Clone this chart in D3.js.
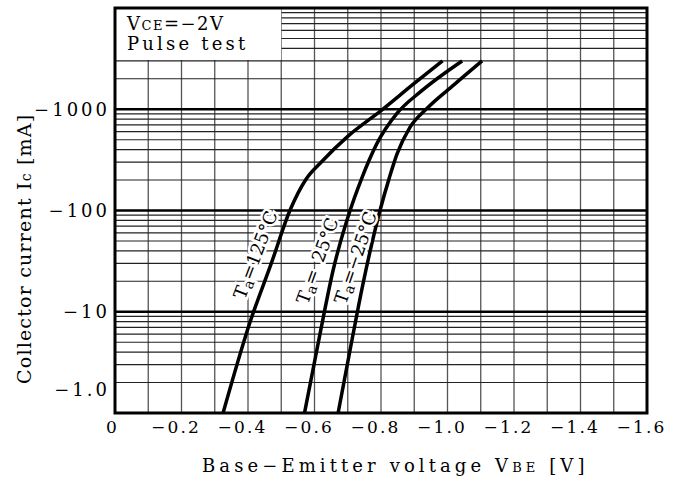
<!DOCTYPE html>
<html>
<head>
<meta charset="utf-8">
<script src="https://cdn.jsdelivr.net/npm/d3@7"></script>
<style>
  body { margin: 0; background: #fff; }
  svg { display: block; font-family: "DejaVu Serif", serif; }
</style>
</head>
<body>
<div id="chart"></div>
<script>
// axis ticks (values are magnitudes, labels carry the minus sign)
const vbeTicks = [0, 0.2, 0.4, 0.6, 0.8, 1.0, 1.2, 1.4, 1.6];
const vbeTickLabels = ["0", "\u22120.2", "\u22120.4", "\u22120.6", "\u22120.8", "\u22121.0", "\u22121.2", "\u22121.4", "\u22121.6"];
const icTicks = [1, 10, 100, 1000];
const icTickLabels = ["\u22121.0", "\u221210", "\u2212100", "\u22121000"];

// curves: |VBE| [V] vs |IC| [mA]
const vbe125 = [0.325, 0.405, 0.47, 0.526, 0.575, 0.62, 0.70, 0.80, 0.90, 0.985];
const ic125  = [1, 7.7, 30, 100, 205, 300, 540, 970, 1800, 3000];
const vbe25  = [0.57, 0.617, 0.656, 0.707, 0.74, 0.788, 0.848, 0.92, 1.044];
const ic25   = [1, 6.15, 25.7, 100, 200, 460, 909, 1500, 3000];
const vbeM25 = [0.671, 0.707, 0.746, 0.797, 0.825, 0.848, 0.887, 0.938, 1.02, 1.104];
const icM25  = [1, 4.2, 19, 100, 210, 360, 662, 1018, 1750, 3000];

// curve labels
const labelTemp = ["125\u00b0C", "\u200225\u00b0C", "\u221225\u00b0C"];
const labelVbe = [0.39, 0.58, 0.694];
const labelIc = [13, 11.6, 11.6];
const labelAngle = [-69, -70, -71];

const width = 683, height = 480;
const margin = { left: 115, right: 36, top: 8, bottom: 67 };

const svg = d3.select("#chart").append("svg")
  .attr("width", width)
  .attr("height", height);

const x = d3.scaleLinear().domain([0, 1.6]).range([margin.left, width - margin.right]);
const y = d3.scaleLog().domain([1, 10000]).range([height - margin.bottom, margin.top]);

const grid = svg.append("g");

// vertical grid, every 0.1 V
grid.selectAll("line.v")
  .data(d3.range(1, 16).map(i => i / 10))
  .enter().append("line")
  .attr("x1", d => x(d)).attr("x2", d => x(d))
  .attr("y1", y(1)).attr("y2", y(10000))
  .attr("stroke", "#555")
  .attr("stroke-width", 1.3);

// horizontal grid, 1-2-...-9 per decade
const hLines = [];
[1, 10, 100, 1000].forEach(dec => d3.range(1, 10).forEach(k => hLines.push(dec * k)));
grid.selectAll("line.h")
  .data(hLines.filter(d => d > 1))
  .enter().append("line")
  .attr("x1", x(0)).attr("x2", x(1.6))
  .attr("y1", d => y(d)).attr("y2", d => y(d))
  .attr("stroke", d => icTicks.includes(d) ? "#000" : "#222")
  .attr("stroke-width", d => icTicks.includes(d) ? 2.4 : 1.2);

// condition box in the top left corner
svg.append("rect")
  .attr("x", x(0)).attr("y", y(10000))
  .attr("width", x(0.5) - x(0))
  .attr("height", y(3000) - y(10000) - 1)
  .attr("fill", "#fff");

const cond = svg.append("text")
  .attr("x", 127).attr("y", 30)
  .style("font-size", "18px")
  .style("letter-spacing", "1.5px");
cond.append("tspan").text("V");
cond.append("tspan").style("font-size", "13px").text("CE");
cond.append("tspan").text("=\u22122V");
svg.append("text")
  .attr("x", 127).attr("y", 50)
  .style("font-size", "18px")
  .style("letter-spacing", "3.2px")
  .text("Pulse test");

// curves
const line = d3.line()
  .x(d => x(d[0]))
  .y(d => y(d[1]))
  .curve(d3.curveMonotoneX);

const series = [
  d3.zip(vbe125, ic125),
  d3.zip(vbe25, ic25),
  d3.zip(vbeM25, icM25)
];
svg.append("g").selectAll("path")
  .data(series)
  .enter().append("path")
  .attr("d", line)
  .attr("fill", "none")
  .attr("stroke", "#000")
  .attr("stroke-width", 3.5);

// Ta labels along the curves
labelTemp.forEach((t, i) => {
  const lab = svg.append("text")
    .attr("transform", `translate(${x(labelVbe[i])},${y(labelIc[i])}) rotate(${labelAngle[i]})`)
    .style("font-size", "18px")
    .style("fill", "#000")
    .style("stroke", "#fff")
    .style("stroke-width", 5)
    .style("paint-order", "stroke");
  lab.append("tspan").text("T");
  lab.append("tspan").style("font-size", "14px").attr("dy", 3).text("a");
  lab.append("tspan").attr("dy", -3).text("=" + t);
});

// frame
svg.append("rect")
  .attr("x", x(0)).attr("y", y(10000))
  .attr("width", x(1.6) - x(0))
  .attr("height", y(1) - y(10000))
  .attr("fill", "none")
  .attr("stroke", "#000")
  .attr("stroke-width", 3);

// x axis
const xAxis = svg.append("g")
  .attr("transform", `translate(0,${y(1)})`)
  .call(d3.axisBottom(x).tickValues(vbeTicks).tickSize(0).tickPadding(8)
    .tickFormat((d, i) => vbeTickLabels[i]));
xAxis.select(".domain").remove();
xAxis.selectAll("text")
  .attr("dx", d => d === 0 ? -3 : -6)
  .style("font-family", "DejaVu Serif, serif")
  .style("font-size", "17px")
  .style("letter-spacing", "2.2px")
  .attr("fill", "#000");

// y axis
const yAxis = svg.append("g")
  .attr("transform", `translate(${x(0)},0)`)
  .call(d3.axisLeft(y).tickValues(icTicks).tickSize(0).tickPadding(5)
    .tickFormat((d, i) => icTickLabels[i]));
yAxis.select(".domain").remove();
yAxis.selectAll("text")
  .style("font-family", "DejaVu Serif, serif")
  .style("font-size", "18px")
  .style("letter-spacing", "3px")
  .attr("fill", "#000");
// the -1.0 label sits above the bottom edge
yAxis.selectAll(".tick").filter(d => d === 1).select("text").attr("y", -23);

// axis titles
const xTitle = svg.append("text")
  .attr("x", 202).attr("y", 472)
  .style("font-size", "18px")
  .style("letter-spacing", "4.1px");
xTitle.append("tspan").text("Base\u2212Emitter voltage V");
xTitle.append("tspan").style("font-size", "13px").text("BE");
xTitle.append("tspan").text(" [V]");

const yTitle = svg.append("text")
  .attr("transform", "translate(31,384) rotate(-90)")
  .style("font-size", "19px")
  .style("letter-spacing", "1.2px");
yTitle.append("tspan").text("Collector current I");
yTitle.append("tspan").style("font-size", "14px").text("c");
yTitle.append("tspan").text(" [mA]");
</script>
</body>
</html>
